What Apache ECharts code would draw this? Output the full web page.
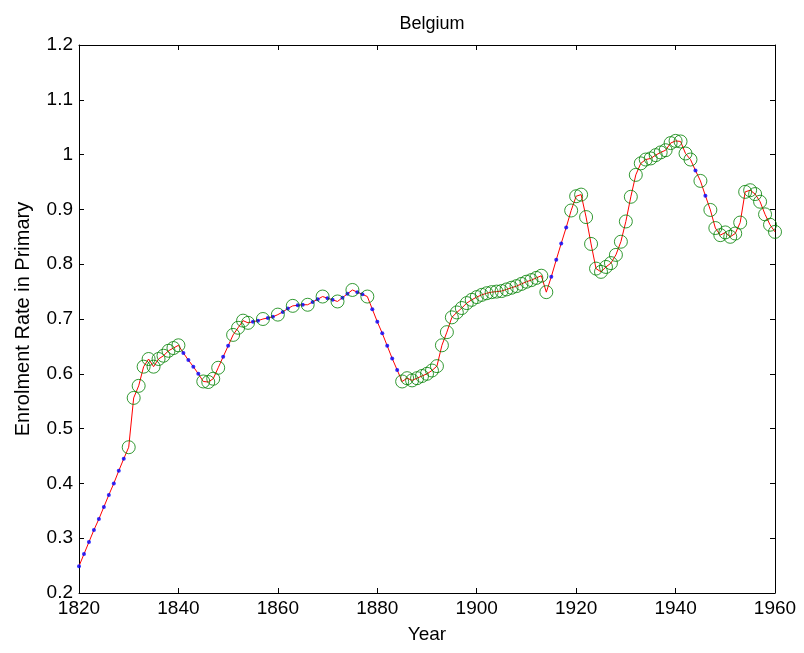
<!DOCTYPE html>
<html>
<head>
<meta charset="utf-8">
<script src="https://cdn.jsdelivr.net/npm/echarts@6/dist/echarts.min.js"></script>
<style>
    html, body { margin: 0; padding: 0; background: #fff; }
    #chart { width: 804px; height: 653px; }
</style>
</head>
<body>
<div id="chart"></div>
<script>
var startYear = 1820;
var endYear = 1960;

// enrolment rate, one value per year from 1820 to 1960 (a row per decade)
var rate = [
    0.249, 0.271, 0.293, 0.315, 0.335, 0.357, 0.379, 0.400, 0.423, 0.445,
    0.466, 0.556, 0.578, 0.613, 0.627, 0.613, 0.627, 0.633, 0.642, 0.647,
    0.652, 0.638, 0.625, 0.613, 0.600, 0.586, 0.585, 0.591, 0.611, 0.631,
    0.651, 0.671, 0.684, 0.697, 0.693, 0.695, 0.697, 0.700, 0.702, 0.704,
    0.708, 0.713, 0.719, 0.724, 0.725, 0.726, 0.726, 0.731, 0.736, 0.741,
    0.738, 0.735, 0.732, 0.739, 0.746, 0.753, 0.749, 0.745, 0.741, 0.718,
    0.695, 0.674, 0.651, 0.628, 0.607, 0.586, 0.592, 0.588, 0.592, 0.596,
    0.600, 0.606, 0.614, 0.652, 0.676, 0.703, 0.712, 0.720, 0.729, 0.735,
    0.740, 0.744, 0.747, 0.749, 0.750, 0.751, 0.754, 0.757, 0.760, 0.764,
    0.768, 0.771, 0.775, 0.779, 0.749, 0.777, 0.808, 0.838, 0.867, 0.898,
    0.924, 0.927, 0.886, 0.837, 0.792, 0.786, 0.795, 0.802, 0.817, 0.841,
    0.878, 0.923, 0.963, 0.984, 0.991, 0.993, 0.999, 1.004, 1.008, 1.021,
    1.025, 1.024, 1.002, 0.991, 0.971, 0.952, 0.925, 0.899, 0.866, 0.853,
    0.858, 0.850, 0.856, 0.876, 0.932, 0.935, 0.928, 0.914, 0.891, 0.872,
    0.859
];

// years with an observed value (green circles); the rest are filled in (blue dots)
var observedYears = [
    1830, 1831, 1832, 1833, 1834, 1835, 1836, 1837, 1838, 1839, 1840,
    1845, 1846, 1847, 1848,
    1851, 1852, 1853, 1854, 1857, 1860, 1863, 1866, 1869, 1872, 1875, 1878,
    1885, 1886, 1887, 1888, 1889, 1890, 1891, 1892, 1893, 1894, 1895, 1896,
    1897, 1898, 1899, 1900, 1901, 1902, 1903, 1904, 1905, 1906, 1907, 1908,
    1909, 1910, 1911, 1912, 1913, 1914,
    1919, 1920, 1921, 1922, 1923, 1924, 1925, 1926, 1927, 1928, 1929, 1930,
    1931, 1932, 1933, 1934, 1935, 1936, 1937, 1938, 1939, 1940, 1941, 1942,
    1943, 1945,
    1947, 1948, 1949, 1950, 1951, 1952, 1953, 1954, 1955, 1956, 1957, 1958,
    1959, 1960
];

var yTicks = [0.2, 0.3, 0.4, 0.5, 0.6, 0.7, 0.8, 0.9, 1, 1.1, 1.2];

var font = "'Liberation Sans', Arial, sans-serif";

function buildData() {
    var line = [], dots = [], circles = [];
    for (var i = 0; i < rate.length; i++) {
        var yr = startYear + i;
        line.push([yr, rate[i]]);
        if (observedYears.indexOf(yr) >= 0) {
            circles.push([yr, rate[i]]);
        } else {
            dots.push([yr, rate[i]]);
        }
    }
    return { line: line, dots: dots, circles: circles };
}

function xAxisOpt(pos, showLabel) {
    return {
        type: "value",
        position: pos,
        min: startYear,
        max: endYear,
        interval: 20,
        name: showLabel ? "Year" : "",
        nameLocation: "middle",
        nameGap: 32,
        nameTextStyle: { color: "#000", fontSize: 19, fontFamily: font },
        axisLine: { show: true, onZero: false, lineStyle: { color: "#000", width: 1 } },
        axisTick: { show: true, inside: true, length: 5, lineStyle: { color: "#000" } },
        axisLabel: {
            show: showLabel, color: "#000", fontSize: 19, fontFamily: font, margin: 6,
            formatter: function(v) { return String(v); }
        },
        splitLine: { show: false }
    };
}

function yAxisOpt(pos, showLabel) {
    return {
        type: "value",
        position: pos,
        min: yTicks[0],
        max: yTicks[yTicks.length - 1],
        interval: 0.1,
        name: showLabel ? "Enrolment Rate in Primary" : "",
        nameLocation: "middle",
        nameGap: 46,
        nameTextStyle: { color: "#000", fontSize: 20, fontFamily: font },
        axisLine: { show: true, onZero: false, lineStyle: { color: "#000", width: 1 } },
        axisTick: { show: true, inside: true, length: 5, lineStyle: { color: "#000" } },
        axisLabel: {
            show: showLabel, color: "#000", fontSize: 19, fontFamily: font, margin: 6,
            formatter: function(v) { return String(parseFloat(v.toFixed(1))); }
        },
        splitLine: { show: false }
    };
}

function init() {
    var d = buildData();
    var chart = echarts.init(document.getElementById("chart"), null, { renderer: "canvas" });
    chart.setOption({
        animation: false,
        backgroundColor: "#fff",
        title: {
            text: "Belgium",
            left: 427,
            top: 10,
            textAlign: "center",
            textStyle: { color: "#000", fontSize: 18, fontWeight: "normal", fontFamily: font }
        },
        grid: { left: 79, right: 29, top: 45, bottom: 60 },
        xAxis: [xAxisOpt("bottom", true), xAxisOpt("top", false)],
        yAxis: [yAxisOpt("left", true), yAxisOpt("right", false)],
        series: [
            {
                type: "line",
                data: d.line,
                showSymbol: false,
                lineStyle: { color: "#ff0000", width: 1 },
                z: 2
            },
            {
                type: "scatter",
                data: d.dots,
                symbol: "circle",
                symbolSize: 4,
                itemStyle: { color: "#0000ff" },
                z: 3
            },
            {
                type: "scatter",
                data: d.circles,
                symbol: "circle",
                symbolSize: 13,
                itemStyle: { color: "rgba(0,0,0,0)", borderColor: "#008000", borderWidth: 1 },
                z: 4
            }
        ]
    });
}

init();
</script>
</body>
</html>
